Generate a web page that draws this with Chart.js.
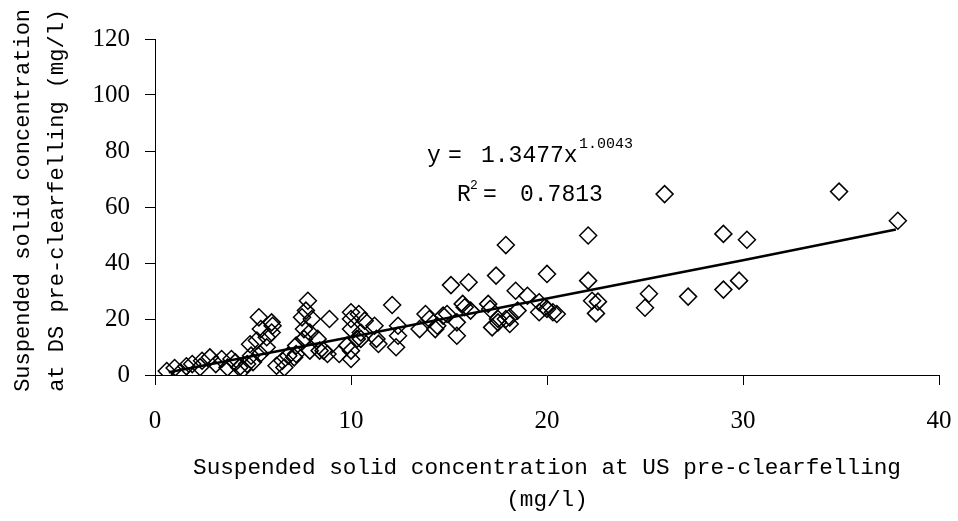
<!DOCTYPE html>
<html>
<head>
<meta charset="utf-8">
<script src="https://cdn.jsdelivr.net/npm/chart.js@4"></script>
<style>
  html, body { margin: 0; padding: 0; background: #fff; }
  #wrap { width: 958px; height: 521px; }
</style>
</head>
<body>
<div id="wrap"><canvas id="c" width="958" height="521"></canvas></div>
<script>
// Observed data: US pre-clearfelling (x) vs DS pre-clearfelling (y), mg/l
const usValues = [
  0.6, 1.0, 1.3, 1.6, 1.9, 2.3, 2.4, 2.8, 3.1, 3.4,
  3.9, 3.7, 4.1, 4.3, 4.5, 4.7, 4.9, 5.0, 4.85, 5.2,
  5.3, 5.4, 5.7, 5.95, 6.0, 5.95, 5.7, 5.36, 6.2, 6.6,
  6.5, 6.8, 7.1, 7.8, 7.7, 8.0, 7.5, 7.6, 7.9, 8.9,
  8.4, 8.8, 9.4, 9.8, 7.6, 7.2, 8.3, 10.0, 10.0, 10.0,
  10.0, 10.7, 11.2, 10.5, 11.3, 11.4, 12.1, 12.4, 12.4, 12.3,
  13.5, 13.8, 14.0, 14.3, 14.9, 15.1, 15.4, 15.4, 15.8, 16.0,
  16.1, 17.0, 17.1, 17.2, 17.5, 17.4, 17.9, 17.9, 18.1, 18.4,
  18.5, 19.0, 19.6, 19.6, 20.0, 20.0, 20.3, 20.5, 22.1, 22.1,
  22.3, 22.6, 22.5, 25.0, 25.2, 26.0, 27.2, 29.0, 30.2, 29.0,
  29.8, 34.9, 37.9, 7.9, 8.6, 10.0, 10.3, 7.2, 10.4, 10.5,
  14.7, 14.4, 15.7, 17.5, 18.1, 19.9
];
const dsValues = [
  1.4, 2.5, 1.0, 3.1, 3.9, 2.8, 5.1, 6.3, 3.9, 5.7,
  5.7, 2.7, 4.5, 2.7, 2.1, 3.9, 6.9, 4.6, 11.0, 12.3,
  20.6, 16.4, 13.5, 18.8, 17.6, 15.2, 9.9, 7.5, 3.3, 2.7,
  5.1, 6.9, 6.3, 26.5, 23.0, 20.0, 20.6, 16.4, 15.2, 20.0,
  8.7, 7.5, 7.5, 10.5, 12.9, 10.5, 12.9, 22.4, 20.0, 16.4,
  5.7, 19.4, 17.6, 15.2, 12.9, 11.1, 25.0, 17.6, 14.0, 9.9,
  16.4, 21.8, 20.0, 16.4, 21.8, 32.1, 14.0, 18.8, 24.2, 33.1,
  23.0, 25.4, 23.6, 17.0, 18.8, 35.5, 46.4, 20.0, 18.2, 30.1,
  23.0, 28.3, 22.4, 26.0, 36.1, 23.6, 22.4, 21.8, 49.8, 33.7,
  26.5, 26.2, 22.0, 24.0, 29.0, 64.6, 28.0, 50.4, 48.3, 30.5,
  33.7, 65.5, 55.1, 8.7, 8.7, 8.7, 12.9, 7.5, 21.8, 12.9,
  21.2, 17.6, 25.4, 20.0, 20.6, 24.2
];
// Fitted power trendline (y = 1.3477x^1.0043)
const trendX = [0.7, 10, 20, 30, 37.8];
const trendY = [1.0, 13.6, 27.3, 41.0, 52.0];
const xTicks = [0, 10, 20, 30, 40];
const yTicks = [0, 20, 40, 60, 80, 100, 120];
const xTitle = ['Suspended solid concentration at US pre-clearfelling', '(mg/l)'];
const yTitle = [' Suspended solid concentration', ' at DS pre-clearfelling (mg/l)'];

const scatterData = usValues.map((x, i) => ({ x: x, y: dsValues[i] }));
const trendData = trendX.map((x, i) => ({ x: x, y: trendY[i] }));

const MONO = '"Liberation Mono", "DejaVu Sans Mono", monospace';
const SERIF = '"Liberation Serif", "DejaVu Serif", serif';

const equationPlugin = {
  id: 'equation',
  afterDraw(chart) {
    const ctx = chart.ctx;
    ctx.save();
    ctx.fillStyle = '#000';
    ctx.textAlign = 'left';
    ctx.textBaseline = 'alphabetic';
    ctx.font = '23px ' + MONO;
    ctx.fillText('y', 427, 162);
    ctx.fillText('=', 448, 162);
    ctx.fillText('1.3477x', 481, 162);
    ctx.font = '15px ' + MONO;
    ctx.fillText('1.0043', 579, 148);
    ctx.font = '23px ' + MONO;
    ctx.fillText('R', 457, 201);
    ctx.fillText('=', 483, 201);
    ctx.fillText('0.7813', 520, 201);
    ctx.font = '13px ' + MONO;
    ctx.fillText('2', 470, 189);
    ctx.restore();
  }
};

new Chart(document.getElementById('c'), {
  data: {
    datasets: [
      {
        type: 'line',
        data: trendData,
        borderColor: '#000',
        borderWidth: 2.5,
        pointRadius: 0,
        fill: false,
        tension: 0,
        order: 0
      },
      {
        type: 'scatter',
        data: scatterData,
        pointStyle: 'rectRot',
        pointRadius: 8.5,
        borderColor: '#000',
        borderWidth: 1.5,
        backgroundColor: 'rgba(0,0,0,0)',
        order: 1
      }
    ]
  },
  options: {
    responsive: false,
    animation: false,
    devicePixelRatio: 1,
    layout: { padding: { left: 0, right: 19, top: 39, bottom: 0 } },
    plugins: { legend: { display: false }, tooltip: { enabled: false } },
    scales: {
      x: {
        type: 'linear',
        min: 0, max: 40,
        afterBuildTicks(scale) { scale.ticks = xTicks.map(v => ({ value: v })); },
        afterFit(scale) { scale.height = 146; scale.paddingLeft = 0; scale.paddingRight = 0; },
        border: { display: true, color: '#000', width: 1 },
        grid: { drawOnChartArea: false, drawTicks: true, tickLength: 10, color: '#000', lineWidth: 1 },
        ticks: { color: '#000', padding: 21, font: { family: SERIF, size: 25 }, maxRotation: 0 },
        title: {
          display: true, text: xTitle, color: '#000',
          font: { family: MONO, size: 22.7, lineHeight: 1.41 },
          padding: { top: 0, bottom: 5 }
        }
      },
      y: {
        type: 'linear',
        min: 0, max: 120,
        afterBuildTicks(scale) { scale.ticks = yTicks.map(v => ({ value: v })); },
        afterFit(scale) { scale.width = 155; scale.paddingTop = 0; scale.paddingBottom = 0; },
        border: { display: true, color: '#000', width: 1 },
        grid: { drawOnChartArea: false, drawTicks: true, tickLength: 10, color: '#000', lineWidth: 1 },
        ticks: { color: '#000', padding: 15, font: { family: SERIF, size: 25 } },
        title: {
          display: true, text: yTitle, color: '#000',
          font: { family: MONO, size: 22, lineHeight: 1.55 },
          padding: { top: 6, bottom: 0 }
        }
      }
    }
  },
  plugins: [equationPlugin]
});
</script>
</body>
</html>
